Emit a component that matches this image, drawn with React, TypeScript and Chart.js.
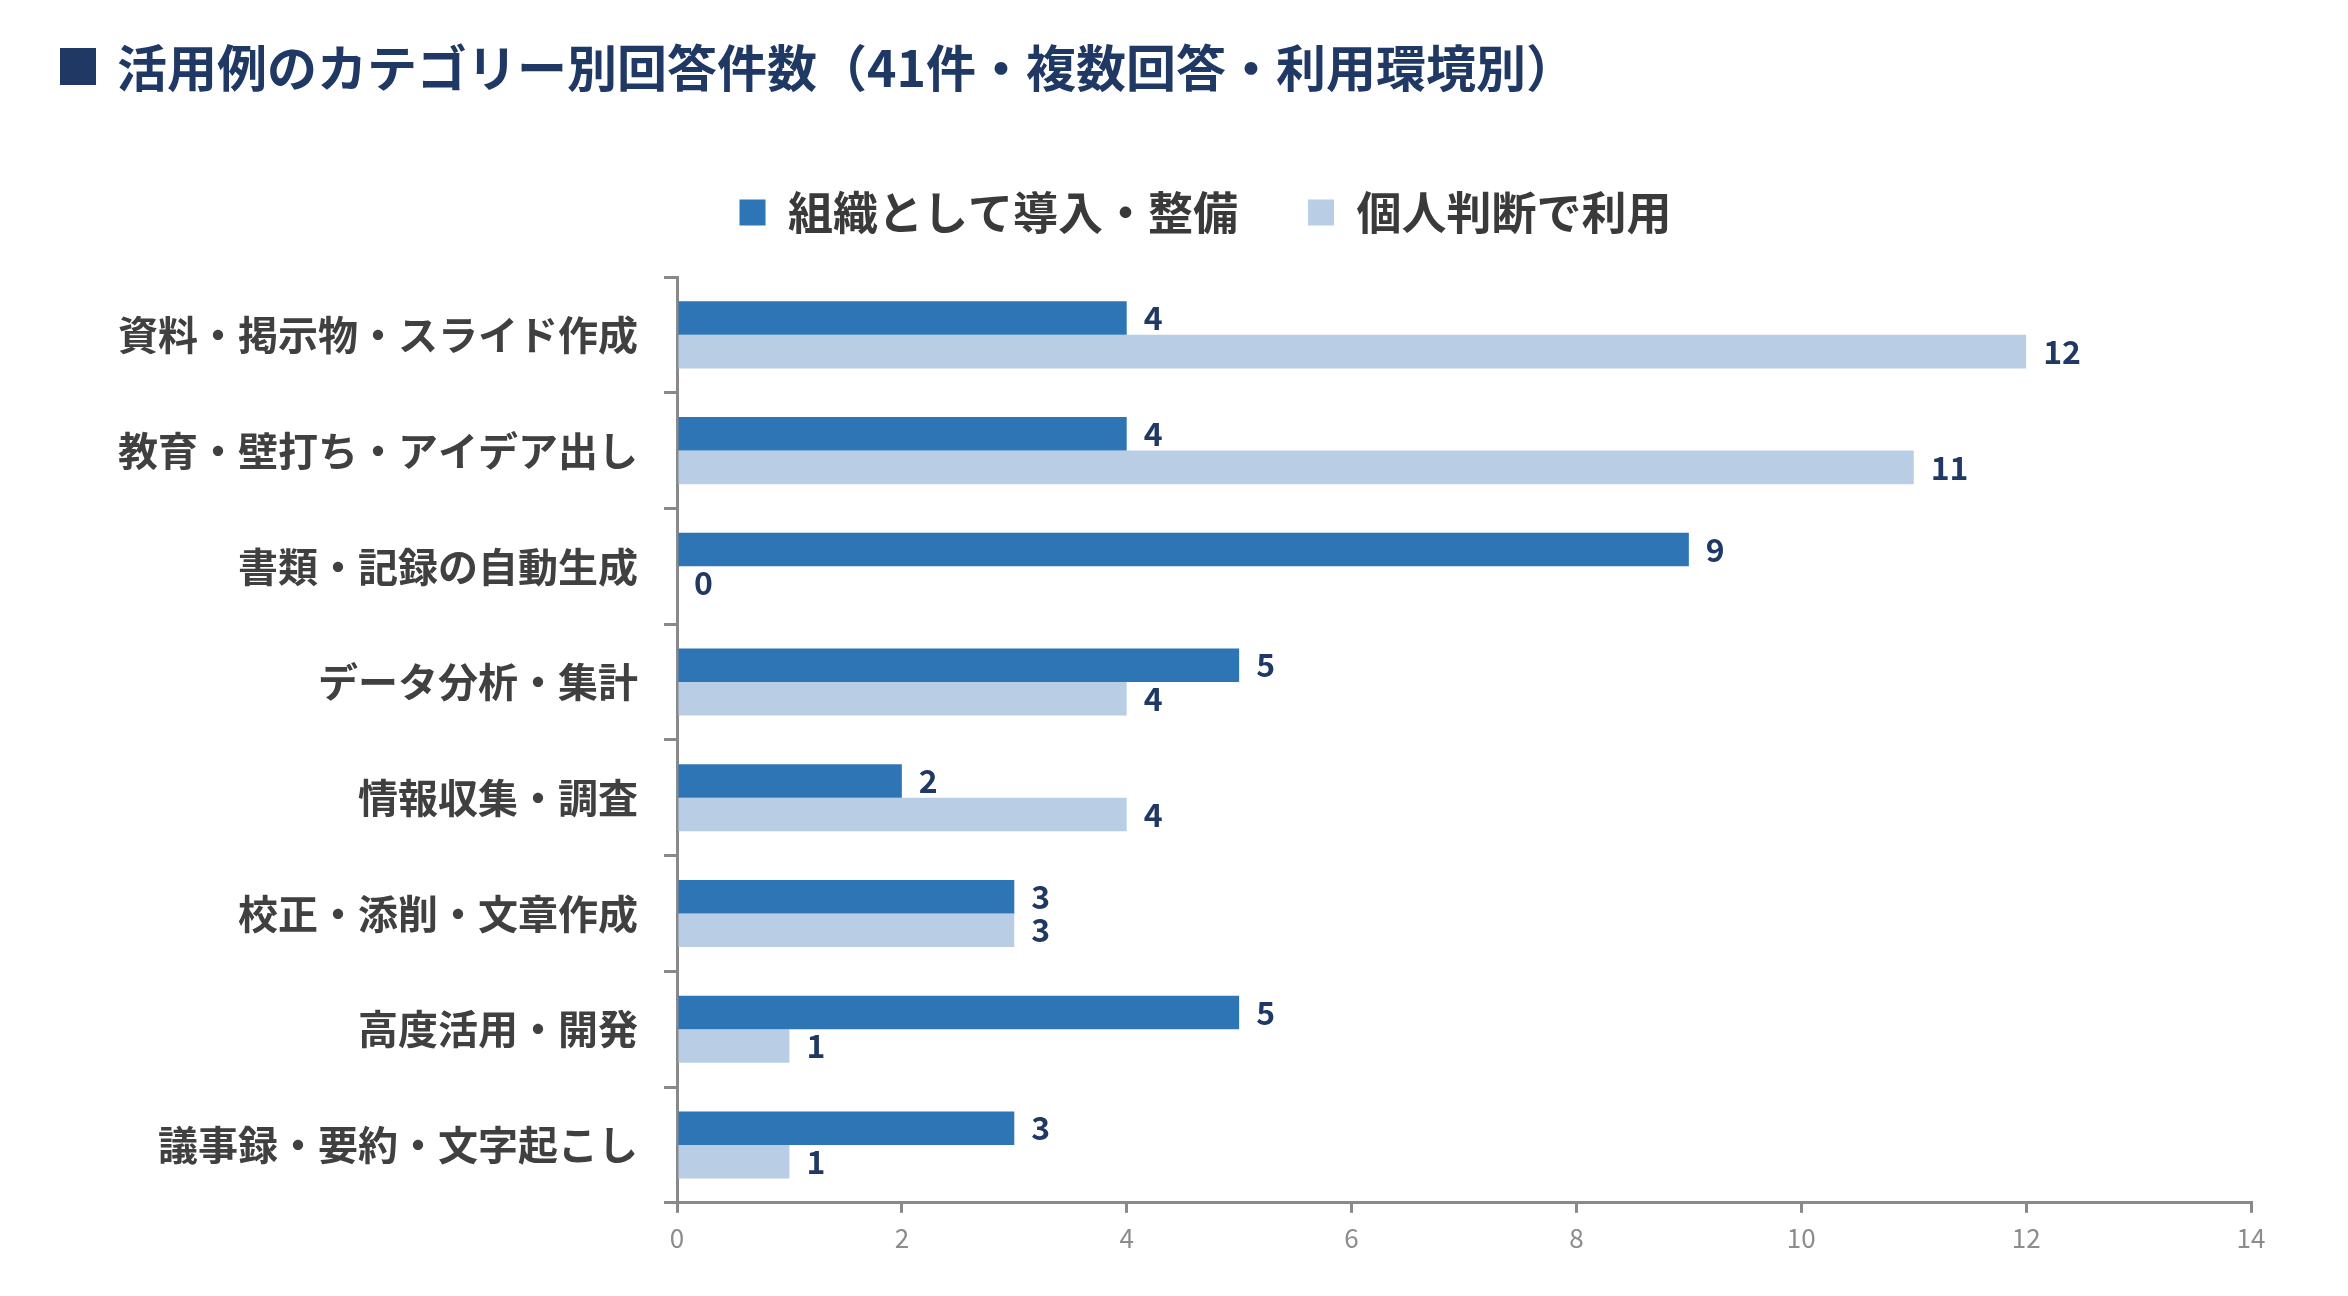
import { useRef, useEffect } from "react";
import { Chart, registerables } from "chart.js";

Chart.register(...registerables);

const categories = [
  "資料・掲示物・スライド作成",
  "教育・壁打ち・アイデア出し",
  "書類・記録の自動生成",
  "データ分析・集計",
  "情報収集・調査",
  "校正・添削・文章作成",
  "高度活用・開発",
  "議事録・要約・文字起こし",
];
const orgValues = [4, 4, 9, 5, 2, 3, 5, 3];
const personalValues = [12, 11, 0, 4, 4, 3, 1, 1];
const seriesNames = ["組織として導入・整備", "個人判断で利用"];
const titleText = "活用例のカテゴリー別回答件数（41件・複数回答・利用環境別）";

const FONT = '"Noto Sans CJK JP", "Noto Sans", sans-serif';

// draws the value next to each bar
const valueLabels = {
  id: "valueLabels",
  afterDatasetsDraw(chart: any) {
    const ctx = chart.ctx;
    ctx.save();
    ctx.font = `bold 32px ${FONT}`;
    ctx.fillStyle = "#1f3864";
    ctx.textAlign = "left";
    ctx.textBaseline = "middle";
    chart.data.datasets.forEach((ds: any, i: number) => {
      const meta = chart.getDatasetMeta(i);
      meta.data.forEach((bar: any, j: number) => {
        ctx.fillText(String(ds.data[j]), bar.x + 17, bar.y);
      });
    });
    ctx.restore();
  },
};

// extra room under the legend, and move it a bit right of the page centre
const legendTweak = {
  id: "legendTweak",
  beforeUpdate(chart: any) {
    const lg = chart.legend;
    if (lg && !lg._patched) {
      const fit = lg.fit;
      lg.fit = function () {
        fit.call(this);
        this.height += 32;
      };
      lg._patched = true;
    }
  },
  afterLayout(chart: any) {
    if (chart.legend) chart.legend.left = 160;
  },
};

export default function App() {
  const chartRef = useRef<HTMLCanvasElement | null>(null);

  useEffect(() => {
    const ctx = chartRef.current?.getContext("2d");
    if (!ctx) return;

    const myChart = new Chart(ctx, {
      type: "bar",
      data: {
        labels: categories,
        datasets: [
          {
            label: seriesNames[0],
            data: orgValues,
            backgroundColor: "#2e75b6",
            categoryPercentage: 0.58,
            barPercentage: 1,
          },
          {
            label: seriesNames[1],
            data: personalValues,
            backgroundColor: "#b9cde5",
            categoryPercentage: 0.58,
            barPercentage: 1,
          },
        ],
      },
      options: {
        indexAxis: "y",
        responsive: false,
        animation: false,
        layout: {
          padding: { left: 100, right: 97, top: 120, bottom: 32 },
        },
        plugins: {
          legend: {
            position: "top",
            labels: {
              boxWidth: 26,
              boxHeight: 26,
              padding: 70,
              color: "#3a3a3a",
              font: { family: FONT, size: 45, weight: "bold" },
            },
          },
          tooltip: { enabled: false },
        },
        scales: {
          x: {
            min: 0,
            max: 14,
            ticks: {
              stepSize: 2,
              padding: 10,
              color: "#8c8c8c",
              font: { family: '"Liberation Sans Narrow", ' + FONT, size: 26 },
            },
            grid: {
              drawOnChartArea: false,
              drawTicks: true,
              tickLength: 10,
              color: "#898989",
              lineWidth: 3,
            },
            border: { color: "#898989", width: 3 },
          },
          y: {
            afterFit(scale: any) {
              scale.width = 577;
            },
            ticks: {
              padding: 26,
              color: "#404040",
              font: { family: FONT, size: 40, weight: "bold" },
            },
            grid: {
              offset: true,
              drawOnChartArea: false,
              drawTicks: true,
              tickLength: 13,
              color: "#898989",
              lineWidth: 3,
            },
            border: { color: "#898989", width: 3 },
          },
        },
      },
      plugins: [valueLabels, legendTweak],
    } as any);

    return () => {
      myChart.destroy();
    };
  }, []);

  return (
    <div
      style={{
        position: "absolute",
        left: 0,
        top: 0,
        width: 2348,
        height: 1296,
        background: "#fff",
        fontFamily: FONT,
      }}
    >
      <canvas
        ref={chartRef}
        width={2348}
        height={1296}
        style={{ position: "absolute", left: 0, top: 0 }}
      ></canvas>
      <div
        style={{
          position: "absolute",
          left: 60,
          top: 48,
          width: 36,
          height: 37,
          background: "#1f3864",
        }}
      ></div>
      <div
        style={{
          position: "absolute",
          left: 117,
          top: 38,
          fontSize: 50,
          lineHeight: "54px",
          fontWeight: "bold",
          color: "#1f3864",
          whiteSpace: "nowrap",
        }}
      >
        {titleText}
      </div>
    </div>
  );
}
